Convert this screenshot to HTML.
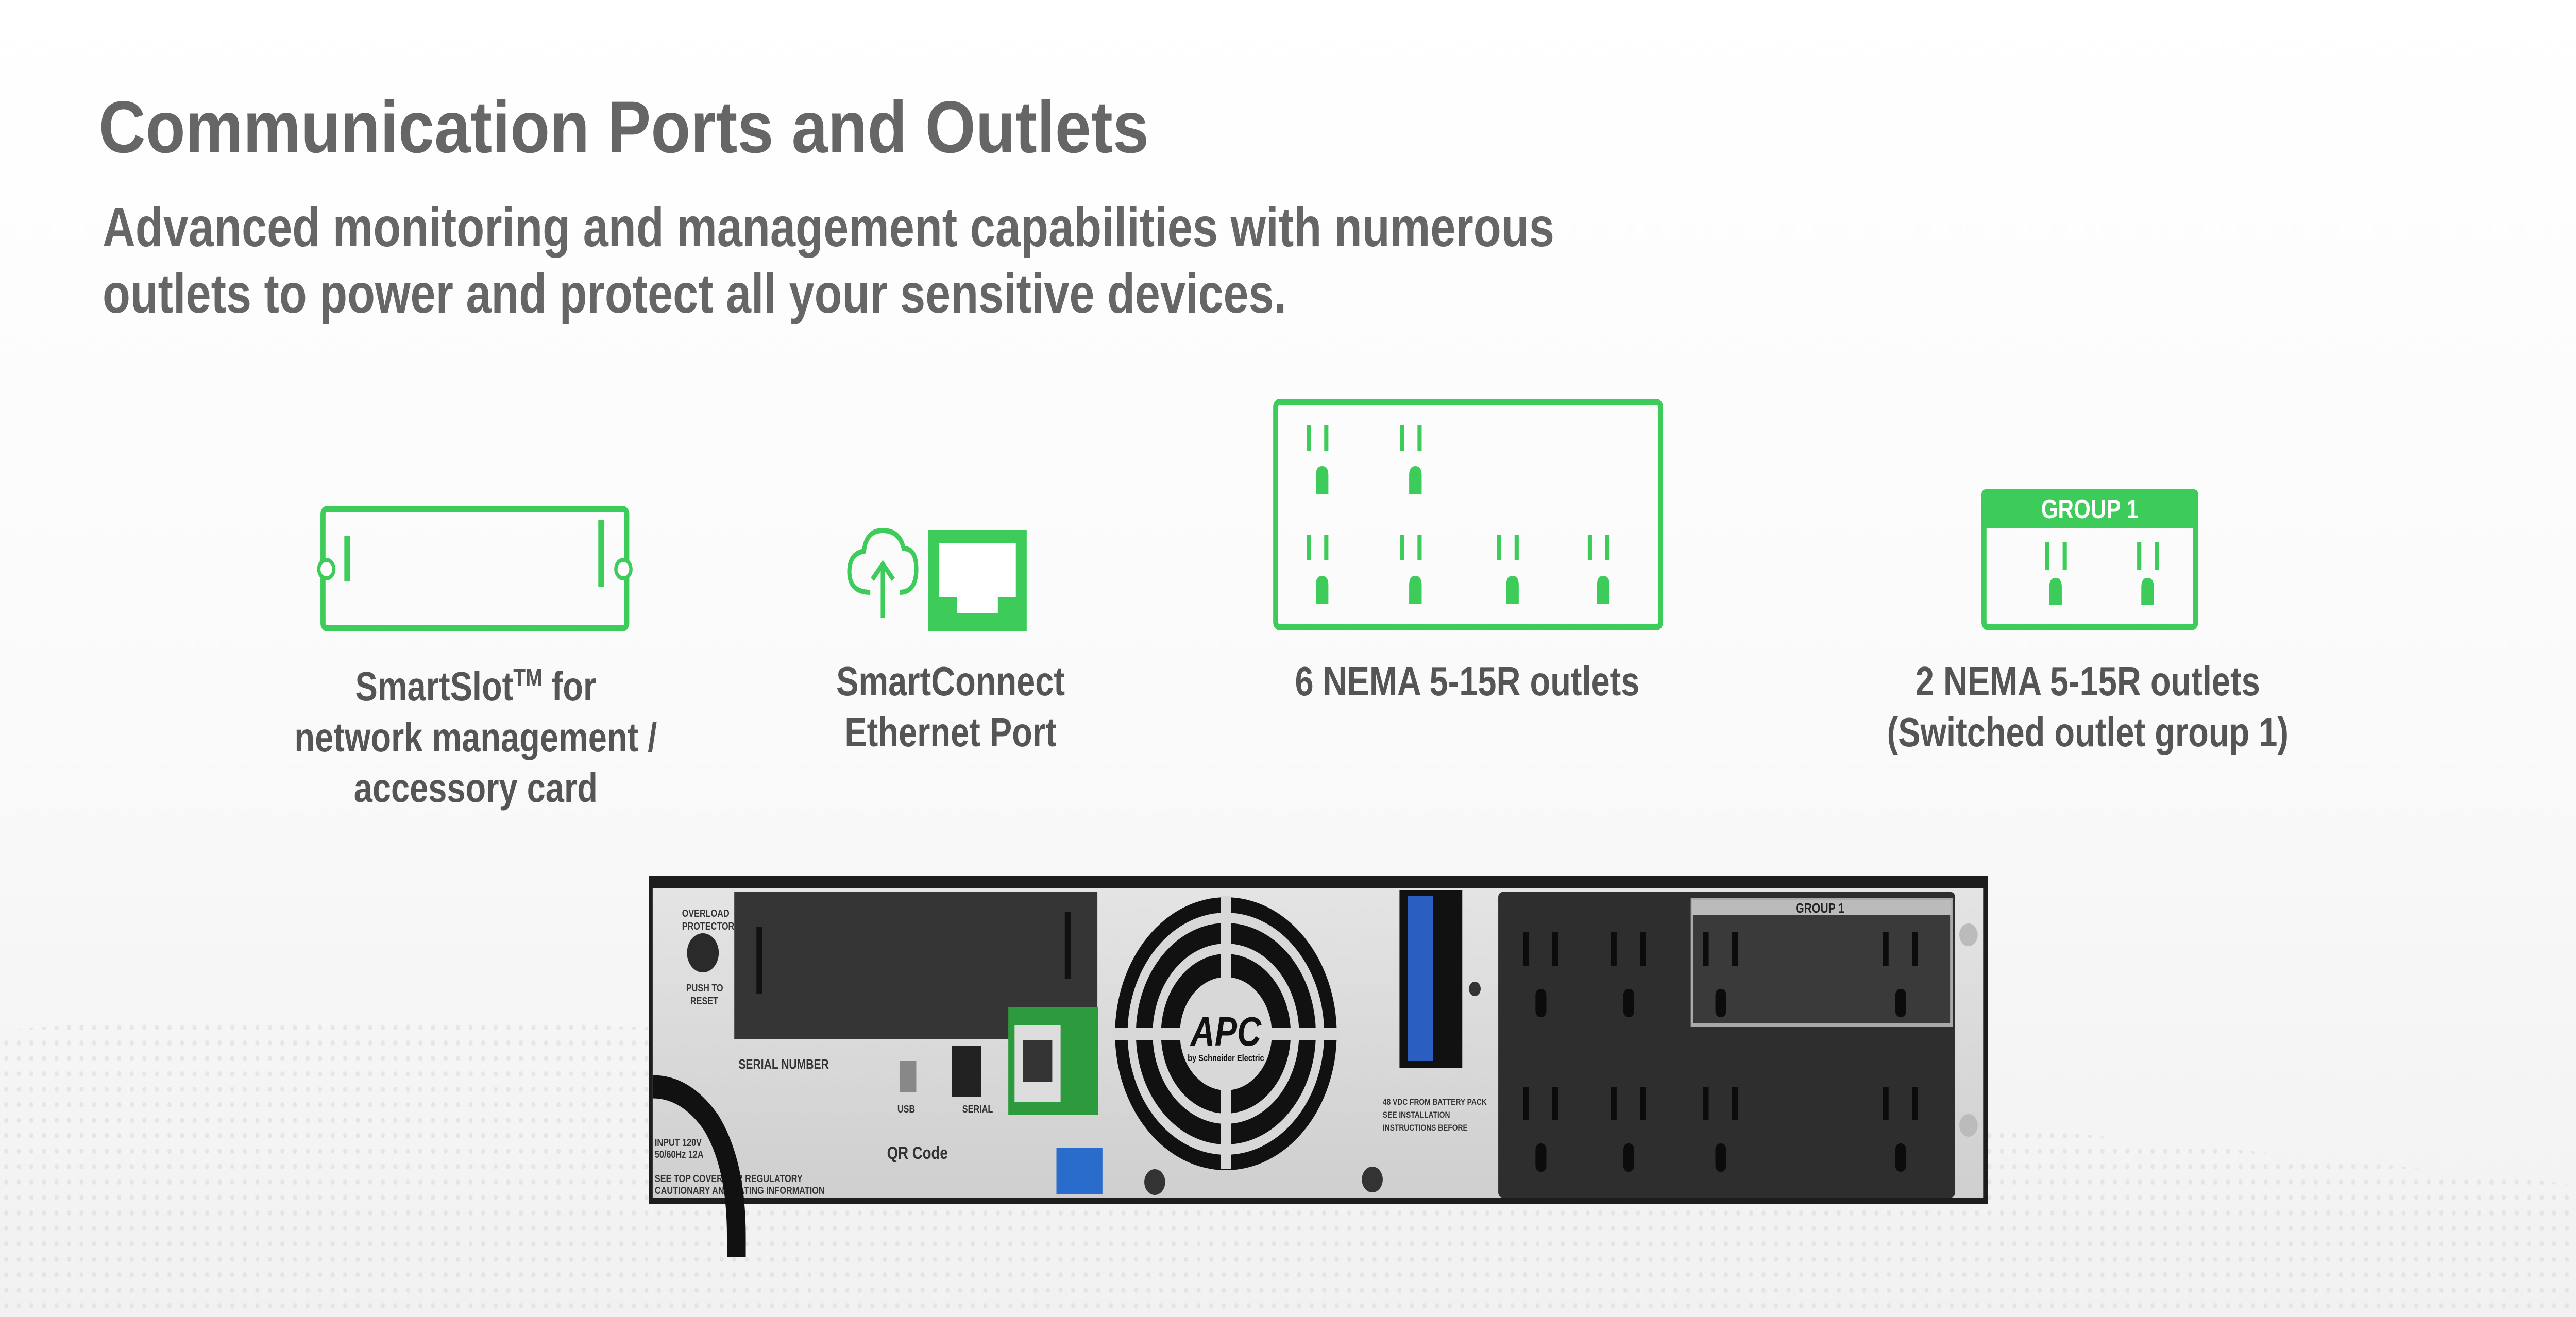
<!DOCTYPE html>
<html><head><meta charset="utf-8"><style>
html,body{margin:0;padding:0;background:#fff;width:100%;height:100%;overflow:hidden;}
svg{display:block;width:100vw;height:100vh;}
text{font-family:"Liberation Sans",Arial,sans-serif;font-weight:bold;}
</style></head><body>
<svg viewBox="0 0 6157 2557" preserveAspectRatio="none" xmlns="http://www.w3.org/2000/svg">
<defs>
<linearGradient id="bg" x1="0" y1="0" x2="0" y2="1">
<stop offset="0" stop-color="#ffffff"/><stop offset="0.55" stop-color="#fafafa"/><stop offset="1" stop-color="#f1f1f1"/>
</linearGradient>
<pattern id="dots" width="30" height="30" patternUnits="userSpaceOnUse"><circle cx="15" cy="15" r="5" fill="#d6d6d6"/></pattern>
<linearGradient id="silver" x1="0" y1="0" x2="0" y2="1"><stop offset="0" stop-color="#e4e4e4"/><stop offset="1" stop-color="#cfcfcf"/></linearGradient>
<g id="o1"><rect x="3123" y="825" width="10" height="50"/><rect x="3165" y="825" width="10" height="50"/><path d="M3145 960 V923 Q3145 905 3160 905 Q3175 905 3175 923 V960Z"/></g>
<g id="do"><rect x="0" y="0" width="14" height="65"/><rect x="70" y="0" width="14" height="65"/><rect x="30" y="110" width="26" height="55" rx="12"/></g>
</defs>
<rect width="6157" height="2557" fill="url(#bg)"/>
<path d="M0 2000 Q1500 1900 6157 2300 L6157 2557 L0 2557Z" fill="url(#dots)" opacity="0.5"/>

<!-- heading -->
<text x="236" y="296" font-size="143" fill="#666" textLength="2510" lengthAdjust="spacingAndGlyphs">Communication Ports and Outlets</text>
<text x="245" y="478" font-size="108" fill="#666" textLength="3470" lengthAdjust="spacingAndGlyphs">Advanced monitoring and management capabilities with numerous</text>
<text x="245" y="607" font-size="108" fill="#666" textLength="2830" lengthAdjust="spacingAndGlyphs">outlets to power and protect all your sensitive devices.</text>

<!-- SmartSlot icon -->
<rect x="772" y="988" width="726" height="232" rx="10" fill="none" stroke="#3dcc5a" stroke-width="12"/>
<rect x="823" y="1040" width="14" height="88" fill="#3dcc5a"/>
<rect x="1430" y="1010" width="14" height="130" fill="#3dcc5a"/>
<circle cx="780" cy="1105" r="18" fill="#fff" stroke="#3dcc5a" stroke-width="8"/>
<circle cx="1490" cy="1105" r="18" fill="#fff" stroke="#3dcc5a" stroke-width="8"/>

<!-- SmartConnect icon -->
<path d="M2080 1150 Q2030 1150 2030 1110 Q2030 1075 2065 1070 Q2070 1030 2110 1030 Q2150 1030 2160 1065 Q2190 1065 2190 1105 Q2190 1150 2150 1150" fill="none" stroke="#3dcc5a" stroke-width="10"/>
<path d="M2110 1200 L2110 1100 M2085 1125 L2110 1095 L2135 1125" fill="none" stroke="#3dcc5a" stroke-width="10"/>
<rect x="2219" y="1029" width="235" height="196" fill="#3dcc5a"/>
<path d="M2245 1055 H2428 V1160 H2385 V1190 H2288 V1160 H2245Z" fill="#fff"/>

<!-- 6 NEMA icon -->
<rect x="3049" y="780" width="920" height="438" rx="10" fill="none" stroke="#3dcc5a" stroke-width="12"/>
<g fill="#3dcc5a">
<use href="#o1"/>
<use href="#o1" x="223"/>
<use href="#o1" y="213"/><use href="#o1" x="223" y="213"/><use href="#o1" x="455" y="213"/><use href="#o1" x="672" y="213"/>
</g>

<!-- Group 1 icon -->
<rect x="4742" y="956" width="506" height="262" rx="10" fill="none" stroke="#3dcc5a" stroke-width="12"/>
<rect x="4736" y="950" width="518" height="76" rx="10" fill="#3dcc5a"/>
<text x="4995" y="1006" font-size="52" fill="#fff" text-anchor="middle">GROUP 1</text>
<g fill="#3dcc5a"><rect x="4888" y="1052" width="10" height="55"/><rect x="4930" y="1052" width="10" height="55"/><path d="M4898 1175 V1140 Q4898 1122 4913 1122 Q4928 1122 4928 1140 V1175Z"/>
<rect x="5108" y="1052" width="10" height="55"/><rect x="5150" y="1052" width="10" height="55"/><path d="M5118 1175 V1140 Q5118 1122 5133 1122 Q5148 1122 5148 1140 V1175Z"/></g>

<!-- labels -->
<g font-size="80" fill="#555" text-anchor="middle">
<text x="1137" y="1360">SmartSlot<tspan font-size="48" dy="-28">TM</tspan><tspan dy="28"> for</tspan></text>
<text x="1137" y="1459">network management /</text>
<text x="1137" y="1557">accessory card</text>
<text x="2272" y="1350">SmartConnect</text>
<text x="2272" y="1449">Ethernet Port</text>
<text x="3507" y="1350">6 NEMA 5-15R outlets</text>
<text x="4990" y="1350">2 NEMA 5-15R outlets</text>
<text x="4990" y="1449">(Switched outlet group 1)</text>
</g>

<!-- product -->
<rect x="1551" y="1700" width="3200" height="637" fill="#1d1d1d"/>
<rect x="1560" y="1725" width="3180" height="600" fill="url(#silver)"/>
<rect x="1755" y="1732" width="868" height="286" fill="#353535"/>
<rect x="1808" y="1800" width="14" height="130" fill="#111"/>
<rect x="2545" y="1770" width="14" height="130" fill="#111"/>
<circle cx="1680" cy="1850" r="38" fill="#2a2a2a"/>
<g font-size="20" fill="#333" font-weight="normal"><text x="1630" y="1780">OVERLOAD</text><text x="1630" y="1805">PROTECTOR</text><text x="1640" y="1925">PUSH TO</text><text x="1650" y="1950">RESET</text>
<text x="1765" y="2075" font-size="26">SERIAL NUMBER</text><text x="2120" y="2250" font-size="34">QR Code</text>
<text x="2145" y="2160">USB</text><text x="2300" y="2160">SERIAL</text><text x="1565" y="2225">INPUT 120V</text><text x="1565" y="2248">50/60Hz 12A</text>
<text x="1565" y="2295">SEE TOP COVER FOR REGULATORY</text><text x="1565" y="2318">CAUTIONARY AND RATING INFORMATION</text></g>
<rect x="2275" y="2030" width="70" height="100" fill="#222"/>
<rect x="2150" y="2060" width="40" height="60" fill="#888"/>
<rect x="2410" y="1956" width="215" height="208" fill="#2d9a3e"/>
<rect x="2425" y="1990" width="110" height="150" fill="#ddd"/>
<rect x="2445" y="2020" width="70" height="80" fill="#333"/>
<rect x="2525" y="2228" width="110" height="90" fill="#2a6ccc"/>
<circle cx="2760" cy="2295" r="25" fill="#333"/>
<circle cx="3280" cy="2290" r="25" fill="#333"/>
<!-- fan -->
<circle cx="2930" cy="2007" r="265" fill="#111"/>
<circle cx="2930" cy="2007" r="225" fill="none" stroke="#d8d8d8" stroke-width="20"/>
<circle cx="2930" cy="2007" r="165" fill="none" stroke="#d8d8d8" stroke-width="20"/>
<circle cx="2930" cy="2007" r="110" fill="#d8d8d8"/>
<rect x="2660" y="1995" width="540" height="24" fill="#d8d8d8"/>
<rect x="2918" y="1740" width="24" height="530" fill="#d8d8d8"/>
<text x="2930" y="2030" font-size="80" fill="#111" text-anchor="middle" font-style="italic">APC</text>
<text x="2930" y="2060" font-size="18" fill="#111" text-anchor="middle">by Schneider Electric</text>
<!-- battery connector -->
<rect x="3345" y="1728" width="150" height="346" fill="#111"/>
<rect x="3365" y="1740" width="60" height="320" fill="#2a5fc0"/>
<circle cx="3525" cy="1920" r="14" fill="#333"/>
<g font-size="17" fill="#333" font-weight="normal"><text x="3305" y="2145">48 VDC FROM BATTERY PACK</text><text x="3305" y="2170">SEE INSTALLATION</text><text x="3305" y="2195">INSTRUCTIONS BEFORE</text></g>
<!-- outlet panel -->
<rect x="3581" y="1732" width="1092" height="593" rx="10" fill="#2e2e2e"/>
<rect x="4044" y="1747" width="620" height="243" fill="#3a3a3a" stroke="#aaa" stroke-width="6"/>
<rect x="4044" y="1747" width="620" height="30" fill="#bbb"/>
<text x="4350" y="1772" font-size="26" fill="#222" text-anchor="middle">GROUP 1</text>
<g fill="#0c0c0c">
<use href="#do" x="3640" y="1810"/><use href="#do" x="3850" y="1810"/><use href="#do" x="4070" y="1810"/><use href="#do" x="4500" y="1810"/>
<use href="#do" x="3640" y="2110"/><use href="#do" x="3850" y="2110"/><use href="#do" x="4070" y="2110"/><use href="#do" x="4500" y="2110"/>
</g>
<circle cx="4705" cy="1815" r="22" fill="#bbb"/><circle cx="4705" cy="2185" r="22" fill="#bbb"/>
<!-- power cord -->
<path d="M1560 2110 Q1640 2110 1700 2180 Q1760 2260 1760 2400 L1760 2440" fill="none" stroke="#111" stroke-width="45"/>
</svg>
</body></html>
